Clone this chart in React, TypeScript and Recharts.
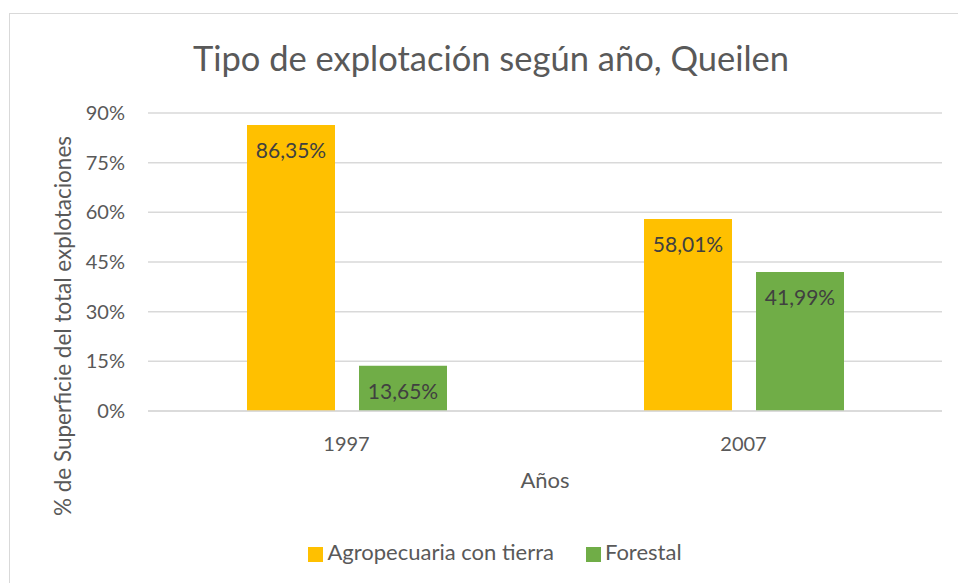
import React from 'react';
import { BarChart, Bar, XAxis, YAxis, CartesianGrid, Legend, LabelList } from 'recharts';

const years = ['1997', '2007'];
const agropecuaria = [86.35, 58.01];
const forestal = [13.65, 41.99];
const yTicks = [0, 15, 30, 45, 60, 75, 90];

const data = years.map((y, i) => ({ year: y, agro: agropecuaria[i], forestal: forestal[i] }));

const FONT = 'Lato, "Open Sans", sans-serif';
const TXT = '#595959';

const fmt = (v: any) => String(Number(v).toFixed(2)).replace('.', ',') + '%';

export default function App() {
  return (
    <div style={{ position: 'absolute', left: 0, top: 0, width: 958, height: 583, background: '#fff', overflow: 'hidden', fontFamily: FONT }}>
      <div style={{ position: 'absolute', left: 9, top: 13, width: 1000, height: 600, border: '1.5px solid #D9D9D9' }} />
      <div style={{ position: 'absolute', left: 0, top: 0 }}>
        <BarChart width={958} height={583} data={data} margin={{ top: 113, right: 16, bottom: 45, left: 0 }} barGap={24} barSize={88}>
          <text x={491} y={57} textAnchor="middle" dominantBaseline="central" fontSize={34.5} fill={TXT} fontFamily={FONT}>
            Tipo de explotación según año, Queilen
          </text>
          <text x={62} y={326} textAnchor="middle" dominantBaseline="central" fontSize={22.5} fill={TXT} fontFamily={FONT} transform="rotate(-90 62 326)">
            % de Superficie del total explotaciones
          </text>
          <CartesianGrid vertical={false} stroke="#D9D9D9" strokeWidth={1.5} />
          <XAxis dataKey="year" tickLine={false} axisLine={{ stroke: '#D9D9D9', strokeWidth: 1.5 }} tickSize={0} tickMargin={26} height={100}
            tick={{ fill: TXT, fontSize: 20, fontFamily: FONT }}
            label={{ value: 'Años', position: 'insideTop', offset: 61, fill: TXT, fontSize: 22, fontFamily: FONT }} />
          <YAxis type="number" domain={[0, 90]} ticks={yTicks} width={148} tickLine={false} axisLine={false} tickSize={0} tickMargin={23}
            tickFormatter={(v: any) => v + '%'} tick={{ fill: TXT, fontSize: 20, fontFamily: FONT }} interval={0} />
          <Legend verticalAlign="bottom" iconType="square" iconSize={15}
            wrapperStyle={{ fontFamily: FONT, fontSize: 22, color: TXT, left: 100, width: 822, top: 538, bottom: 'auto' }}
            formatter={(value: any) => <span style={{ color: TXT, marginRight: 22 }}>{value}</span>} />
          <Bar dataKey="agro" name="Agropecuaria con tierra" fill="#FFC000" isAnimationActive={false}>
            <LabelList dataKey="agro" position="insideTop" offset={18} formatter={fmt} fill="#404040" fontSize={21} fontFamily={FONT} />
          </Bar>
          <Bar dataKey="forestal" name="Forestal" fill="#70AD47" isAnimationActive={false}>
            <LabelList dataKey="forestal" position="insideTop" offset={18} formatter={fmt} fill="#404040" fontSize={21} fontFamily={FONT} />
          </Bar>
        </BarChart>
      </div>
    </div>
  );
}
